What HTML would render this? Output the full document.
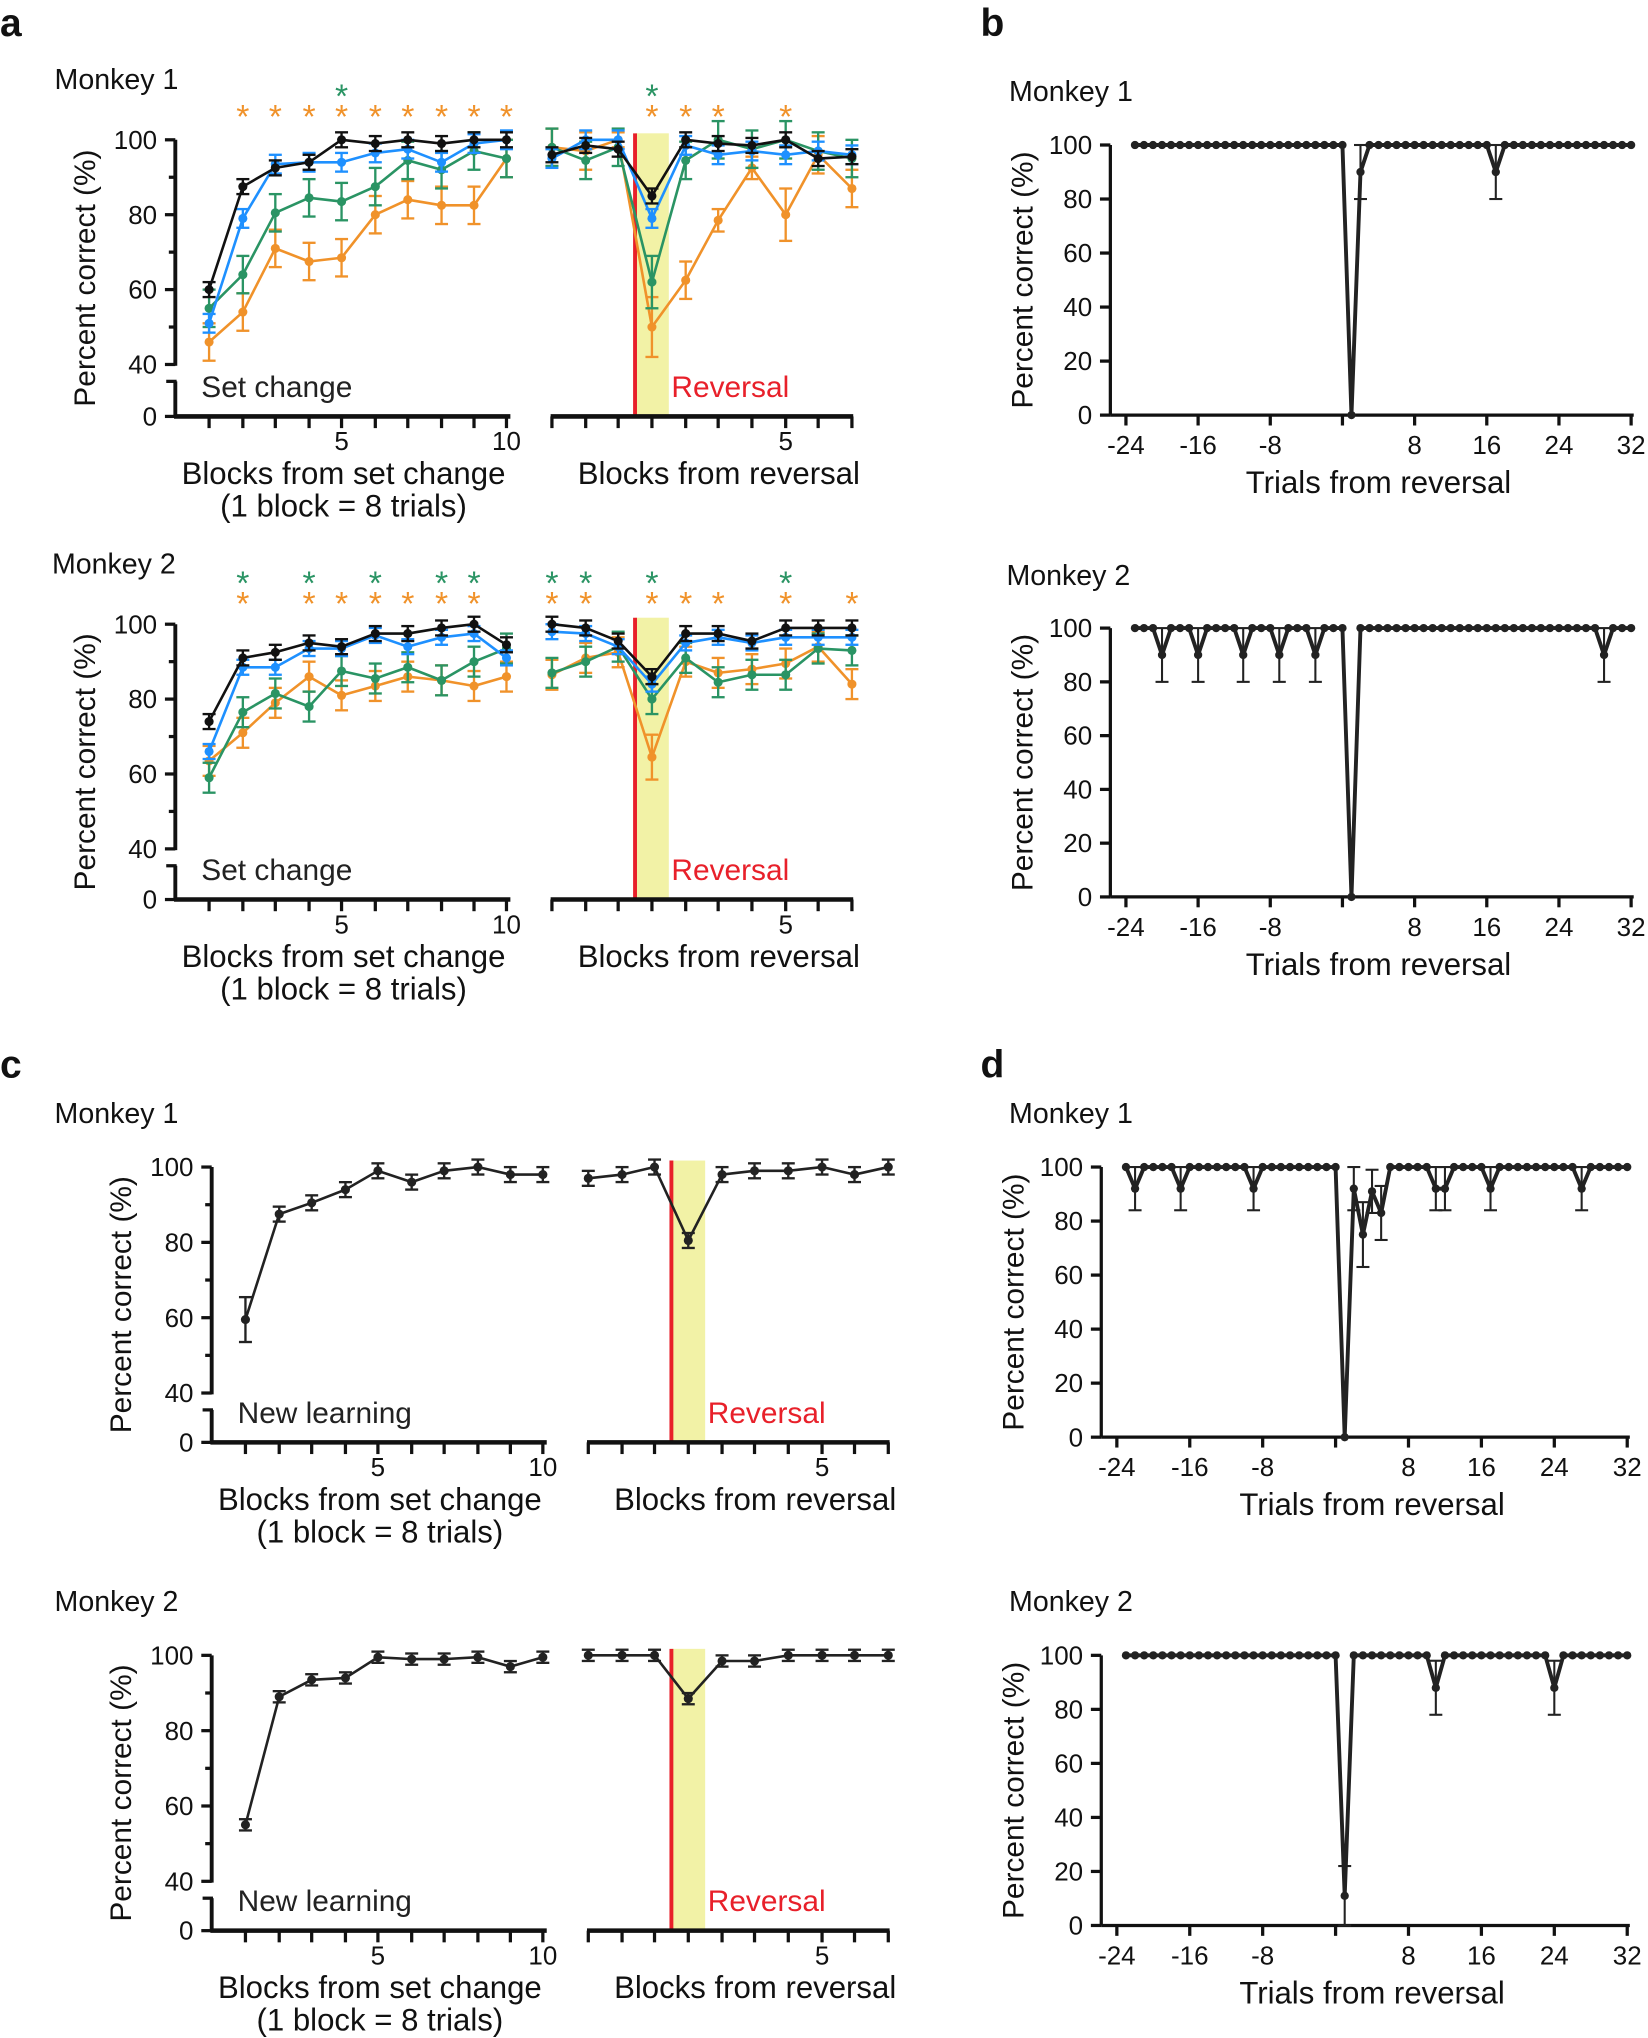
<!DOCTYPE html>
<html><head><meta charset="utf-8"><style>
html,body{margin:0;padding:0;background:#fff}
svg{display:block}
text{font-family:"Liberation Sans",sans-serif}
</style></head><body>
<svg id="s" xmlns="http://www.w3.org/2000/svg" width="1648" height="2038" viewBox="0 0 1269 1568"></svg>
<script>
const S=document.getElementById('s');const NS='http://www.w3.org/2000/svg';
function el(t,a,txt){const e=document.createElementNS(NS,t);for(const k in a)e.setAttribute(k,a[k]);if(txt!==undefined)e.textContent=txt;S.appendChild(e);return e;}
function L(x1,y1,x2,y2,c,w){el('line',{x1,y1,x2,y2,stroke:c||'#111','stroke-width':w||2});}
function T(x,y,s,sz,anc,c,wt,rot){const a={x,y,'font-size':sz,'text-anchor':anc||'middle',fill:c||'#111'};if(wt)a['font-weight']=wt;if(rot)a.transform=`rotate(-90 ${x} ${y})`;el('text',a,s);}
function P(pts,c,w){el('polyline',{points:pts.map(p=>p.join(',')).join(' '),fill:'none',stroke:c,'stroke-width':w||2,'stroke-linejoin':'round'});}
function C(x,y,r,c){el('circle',{cx:x,cy:y,r,fill:c});}
function EB(x,y1,y2,c,w){L(x,y1,x,y2,c,w||1.8);L(x-5,y1,x+5,y1,c,w||1.8);L(x-5,y2,x+5,y2,c,w||1.8);}
const OR='#f0922a',GR='#2a9464',BL='#1e90ff',BK='#111';

function blockPanel(o){
 const {ax,yT,y40,y0,lx,rx,series,label,stars}=o;
 const ym=v=>yT+(100-v)*(y40-yT)/60;
 L(ax,yT,ax,y40+1,'#111',3);
 for(let v=40;v<=100;v+=10)L(ax-(v%20==0?8:5),ym(v),ax,ym(v),'#111',2.5);
 L(ax,y40+13,ax,y0,'#111',3);L(ax-7,y40+13,ax+1,y40+13,'#111',2.5);L(ax-8,y0,ax,y0,'#111',2.5);
 [100,80,60,40].forEach(v=>T(ax-14,ym(v)+7,String(v),20,'end'));
 T(ax-14,y0+7,'0',20,'end');
 T(ax-62,(yT+y0)/2,'Percent correct (%)',23,'middle','#111',null,true);
 L(ax-1,y0,lx[9]+3,y0,'#111',3.5);
 lx.forEach(x=>L(x,y0,x,y0+9,'#111',2.5));
 T(lx[4],y0+26,'5',20);T(lx[9],y0+26,'10',20);
 const rs=rx[3]-13;
 el('rect',{x:rs,y:yT-5,width:26,height:y0-yT+5,fill:'#f2f2a6'});
 L(rs,yT-5,rs,y0,'#e8202a',3);
 L(rx[0]-1,y0,rx[9]+1,y0,'#111',3.5);
 rx.forEach(x=>L(x,y0,x,y0+9,'#111',2.5));
 T(rx[7],y0+26,'5',20);
 T(ax+20,y0-15,label,23,'start','#222');
 T(rs+28,y0-15,'Reversal',23,'start','#e8202a');
 const lc=(ax+lx[9])/2+2;
 T(lc,y0+52,'Blocks from set change',24);
 T(lc,y0+77,'(1 block = 8 trials)',24);
 T((rx[0]+rx[9])/2+13,y0+52,'Blocks from reversal',24);
 series.forEach(s=>{
  const pl=lx.map((x,i)=>[x,ym(s.l[i])]),pr=rx.map((x,i)=>[x,ym(s.r[i])]);
  const e=s.e||2;
  pl.concat(pr).forEach((p,i)=>{const ee=(s.ee&&s.ee[i])||e;EB(p[0],p[1]-ee*2.88,Math.min(p[1]+ee*2.88,y0),s.c);});
  P(pl,s.c,2);P(pr,s.c,2);
  pl.concat(pr).forEach(p=>C(p[0],p[1],3.5,s.c));
 });
 if(stars)stars.forEach(st=>T(st[0],st[1],'*',26,'middle',st[2]));
}
const LX1=[161,187,212,238,263,289,314,340,365,390];
const RX1=[425,451,476,502,528,553,579,605,630,656];
const LX2=LX1.map(x=>x+28), RX2=RX1.map(x=>x+28);

let st1=[];[187,212,238,263,289,314,340,365,390,502,528,553,605].forEach(x=>st1.push([x,98,OR]));[263,502].forEach(x=>st1.push([x,82,GR]));
blockPanel({ax:135,yT:107,y40:280,y0:320,lx:LX1,rx:RX1,label:'Set change',stars:st1,series:[
 {c:OR,e:5,l:[46,54,71,67.5,68.5,80,84,82.5,82.5,95],r:[98,97,100,50,62.5,78.5,92.5,80,96,87],ee:{12:2,13:8,14:5,15:3,16:3,17:7}},
 {c:GR,e:5,l:[55,64,80.5,84.5,83.5,87.5,94.5,92,97,95],r:[98,94.5,98,62,94.5,100,97.5,100,97,95],ee:{13:7}},
 {c:BL,e:2.5,l:[51,79,93.5,94,94,96.5,97.5,94,99,100],r:[95,100,100,79,98.5,96,97,96,97,96]},
 {c:BK,e:2,l:[60,87.5,92.5,94,100,99,100,99,100,100],r:[96,98.5,97.5,85,100,99,98.5,100,95,95.5]}]});
let st2=[];[187,238,263,289,314,340,365,425,451,502,528,553,605,656].forEach(x=>st2.push([x,473,OR]));[187,238,289,340,365,425,451,502,605].forEach(x=>st2.push([x,457,GR]));
blockPanel({ax:135,yT:480,y40:653,y0:692,lx:LX1,rx:RX1,label:'Set change',stars:st2,series:[
 {c:OR,e:4,l:[63.5,71,79,86,81,83.5,86,85,83.5,86],r:[86.5,91,92.5,64.5,90,87,88,89.5,94,84],ee:{13:6}},
 {c:GR,e:4,l:[59,76.5,81.5,78,87.5,85.5,88.5,85,90,93.5],r:[87,90,94,80,91,84.5,86.5,86.5,93.5,93]},
 {c:BL,e:2,l:[66,88.5,88.5,93.5,93.5,97,94,96.5,97.5,91],r:[98,97.5,94,84,95,96.5,95,96.5,96.5,96.5]},
 {c:BK,e:2,l:[74,91,92.5,95,94,97.5,97.5,99,100,94.5],r:[100,99,95.5,86,97.5,97.5,95.5,99,99,99]}]});
blockPanel({ax:163,yT:898,y40:1072,y0:1110,lx:LX2,rx:RX2,label:'New learning',series:[
 {c:'#222',e:2,l:[59.5,87.5,90.5,94,99,96,99,100,98,98],r:[97,98,100,80.5,98,99,99,100,98,100],ee:{0:6}}]});
blockPanel({ax:163,yT:1274,y40:1448,y0:1486,lx:LX2,rx:RX2,label:'New learning',series:[
 {c:'#222',e:1.5,l:[55,89,93.5,94,99.5,99,99,99.5,97,99.5],r:[100,100,100,88.5,98.5,98.5,100,100,100,100]}]});

function trialPanel(o){
 const {ax,y100,y0,x24,x32,zero,dips}=o;
 const sc=(x32-x24)/56, xt=t=>x24+(t+24)*sc, ym=v=>y0-(y0-y100)*v/100;
 L(ax,y100,ax,y0,'#111',2.5);
 for(let v=0;v<=100;v+=20){L(ax-8,ym(v),ax,ym(v),'#111',2.5);T(ax-14,ym(v)+7,String(v),20,'end');}
 L(ax,y0,x32+2,y0,'#111',2.5);
 [-24,-16,-8,0,8,16,24,32].forEach(t=>{L(xt(t),y0,xt(t),y0+8,'#111',2.5);if(t)T(xt(t),y0+30,String(t),20);});
 T(ax-60,(y100+y0)/2,'Percent correct (%)',23,'middle','#111',null,true);
 T((x24+x32)/2,y0+60,'Trials from reversal',24);
 const pts=[];
 for(let t=-23;t<=32;t++){let v=100,e=0;if(t===1){v=zero[0];e=zero[1];}if(dips[t]){v=dips[t][0];e=dips[t][1];}pts.push([xt(t),ym(v),e,v]);}
 pts.forEach(p=>{if(p[2])EB(p[0],p[1]-p[2]*(y0-y100)/100,Math.min(p[1]+p[2]*(y0-y100)/100,y0),'#222',1.6);});
 P(pts.map(p=>[p[0],p[1]]),'#222',3);
 pts.forEach(p=>C(p[0],p[1],3.2,'#222'));
}
trialPanel({ax:855,y100:111,y0:319,x24:867,x32:1256,zero:[0,0],dips:{2:[90,10],17:[90,10]}});
trialPanel({ax:855,y100:483,y0:690,x24:867,x32:1256,zero:[0,0],dips:{'-20':[90,10],'-16':[90,10],'-11':[90,10],'-7':[90,10],'-3':[90,10],29:[90,10]}});
trialPanel({ax:848,y100:898,y0:1106,x24:860,x32:1253,zero:[0,0],dips:{'-22':[92,8],'-17':[92,8],'-9':[92,8],2:[92,8],3:[75,12],4:[91,8],5:[83,10],11:[92,8],12:[92,8],17:[92,8],27:[92,8]}});
trialPanel({ax:848,y100:1274,y0:1482,x24:860,x32:1253,zero:[11,11],dips:{11:[88,10],24:[88,10]}});

T(0,27,'a',30,'start','#111','bold');T(755,27,'b',30,'start','#111','bold');
T(0,829,'c',30,'start','#111','bold');T(755,829,'d',30,'start','#111','bold');
[[42,68],[40,441],[42,864],[42,1240],[777,77],[775,450],[777,864],[777,1240]].forEach((p,i)=>T(p[0],p[1],'Monkey '+(i%2?2:1),22,'start','#111'));
</script>
</body></html>
